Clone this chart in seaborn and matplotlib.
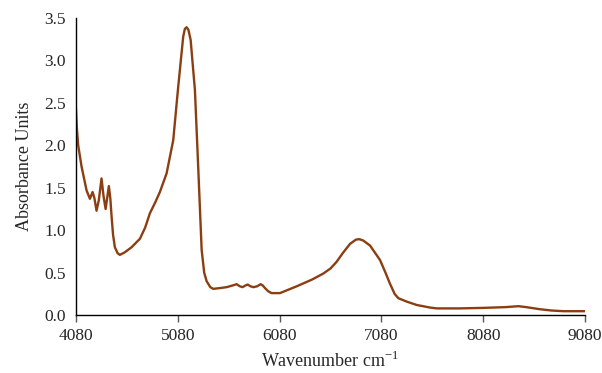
import matplotlib
matplotlib.use("Agg")
import matplotlib.pyplot as plt
import seaborn as sns
import pandas as pd

wavenumber = [4080, 4090, 4103, 4136, 4185, 4218, 4244, 4262, 4283, 4305, 4332, 4352, 4372, 4390,
              4404, 4418, 4431, 4445, 4463, 4490, 4512, 4560, 4627, 4709, 4760, 4807, 4860, 4905,
              4971, 5036, 5085, 5134, 5150, 5167, 5185, 5207, 5249, 5281, 5315, 5340, 5364, 5400,
              5429, 5500, 5560, 5620, 5659, 5690, 5717, 5745, 5767, 5795, 5822, 5860, 5894, 5915,
              5936, 5970, 6002, 6084, 6248, 6400, 6509, 6580, 6641, 6700, 6772, 6830, 6863, 6900,
              6968, 7066, 7120, 7164, 7210, 7246, 7328, 7427, 7557, 7623, 7850, 8081, 8300, 8425,
              8500, 8638, 8750, 8867, 9080]
absorbance = [2.45, 2.20, 2.00, 1.75, 1.47, 1.37, 1.45, 1.38, 1.23, 1.35, 1.61, 1.40, 1.25, 1.40,
              1.52, 1.38, 1.16, 0.95, 0.80, 0.73, 0.71, 0.74, 0.80, 0.90, 1.03, 1.20, 1.33, 1.45,
              1.67, 2.06, 2.69, 3.28, 3.37, 3.39, 3.36, 3.24, 2.65, 1.75, 0.77, 0.50, 0.40, 0.33,
              0.31, 0.32, 0.33, 0.35, 0.365, 0.34, 0.33, 0.35, 0.36, 0.34, 0.33, 0.34, 0.365, 0.35,
              0.32, 0.28, 0.26, 0.26, 0.34, 0.42, 0.49, 0.55, 0.63, 0.73, 0.84, 0.89, 0.895, 0.88,
              0.82, 0.65, 0.50, 0.37, 0.25, 0.20, 0.16, 0.12, 0.09, 0.08, 0.08, 0.086, 0.095, 0.106,
              0.095, 0.07, 0.055, 0.047, 0.047]

x_ticks = [4080, 5080, 6080, 7080, 8080, 9080]
y_ticks = [0.0, 0.5, 1.0, 1.5, 2.0, 2.5, 3.0, 3.5]

df = pd.DataFrame({"wavenumber": wavenumber, "absorbance": absorbance})

sns.set_theme(style="white")
plt.rcParams["font.family"] = ["Liberation Serif", "DejaVu Serif"]
plt.rcParams["mathtext.fontset"] = "custom"
plt.rcParams["mathtext.rm"] = "Liberation Serif"

fig = plt.figure(figsize=(6.02, 3.73), dpi=100)
ax = fig.add_axes([0.126, 0.155, 0.846, 0.797])
sns.lineplot(data=df, x="wavenumber", y="absorbance", ax=ax, color="#8B3E12", linewidth=1.7)

ax.set_xlim(4080, 9080)
ax.set_ylim(0, 3.5)
ax.set_xticks(x_ticks)
ax.set_xticklabels([str(t) for t in x_ticks])
ax.set_yticks(y_ticks)
ax.set_yticklabels([f"{t:.1f}" for t in y_ticks])
ax.tick_params(axis="x", direction="out", length=5, width=1, color="#595959", labelsize=12.5, pad=4, bottom=True)
ax.tick_params(axis="y", length=0, labelsize=12.5, pad=7)

for s in ["top", "right"]:
    ax.spines[s].set_visible(False)
for s in ["left", "bottom"]:
    ax.spines[s].set_color("black")
    ax.spines[s].set_linewidth(1.0)

ax.set_xlabel("Wavenumber cm$^{\\mathregular{-1}}$", fontsize=13, labelpad=5)
ax.set_ylabel("Absorbance Units", fontsize=13, labelpad=8)
ax.grid(False)

fig.savefig("out.png", dpi=100)
